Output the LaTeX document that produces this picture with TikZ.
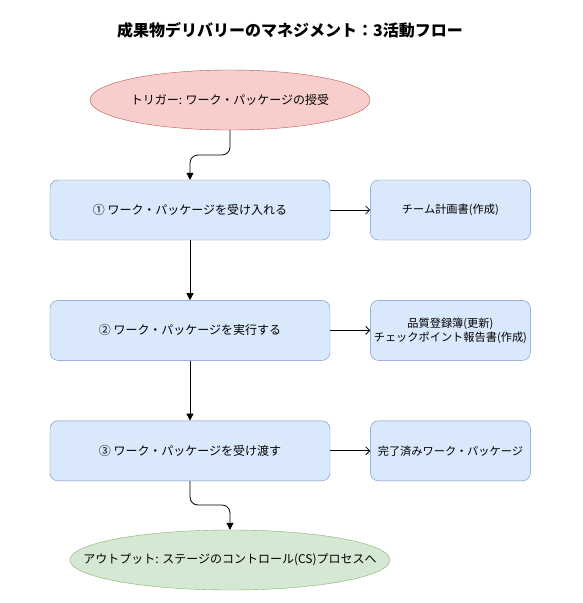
\documentclass[tikz,border=0pt]{standalone}
\usepackage{fontspec}
\setmainfont{Noto Sans CJK JP}
\usetikzlibrary{positioning,shapes.geometric,arrows.meta}
\definecolor{redfill}{HTML}{F8CECC}
\definecolor{redline}{HTML}{B85450}
\definecolor{bluefill}{HTML}{DAE8FC}
\definecolor{blueline}{HTML}{6C8EBF}
\definecolor{greenfill}{HTML}{D5E8D4}
\definecolor{greenline}{HTML}{82B366}
\begin{document}
\begin{tikzpicture}[
  x=1pt, y=-1pt,
  every node/.style={font=\fontsize{12}{14}\selectfont, align=center},
  activity/.style={draw=blueline, fill=bluefill, rounded corners=8pt, minimum width=280pt, minimum height=60pt, inner sep=0pt},
  product/.style={activity, minimum width=160pt, font=\fontsize{11.2}{14}\selectfont},
  trigger/.style={ellipse, draw=redline, fill=redfill, minimum width=280pt, minimum height=60pt, inner ysep=0pt, inner xsep=-20pt},
  output/.style={ellipse, draw=greenline, fill=greenfill, minimum width=320pt, minimum height=60pt, inner ysep=0pt, inner xsep=-45pt},
  flow/.style={-{Triangle[length=7pt,width=7pt]}, line width=0.8pt, rounded corners=8pt},
  yields/.style={-{Straight Barb[length=4pt,width=8pt]}, line width=0.8pt}
]
\useasboundingbox (0,0) rectangle (582,603);
\node (title) at (290,30) {\fontsize{16}{19}\selectfont\bfseries 成果物デリバリーのマネジメント：3活動フロー};
\node (trig) [trigger] at (230,100) {トリガー: ワーク・パッケージの授受};
\node (accept) [activity] at (190,210) {① ワーク・パッケージを受け入れる};
\node (execute) [activity, below=60pt of accept] {② ワーク・パッケージを実行する};
\node (deliver) [activity, below=60pt of execute] {③ ワーク・パッケージを受け渡す};
\node (plan) [product, right=40pt of accept] {チーム計画書(作成)};
\node (reports) [product, right=40pt of execute] {品質登録簿(更新)\\チェックポイント報告書(作成)};
\node (done) [product, right=40pt of deliver] {完了済みワーク・パッケージ};
\node (out) [output] at (230,560) {アウトプット: ステージのコントロール(CS)プロセスへ};
% main flow
\draw[flow] (trig.south) -- (230,155) -| (accept.north);
\draw[flow] (accept) -- (execute);
\draw[flow] (execute) -- (deliver);
\draw[flow] (deliver.south) -- (190,505) -| (out.north);
% products
\draw[yields] (accept) -- (plan);
\draw[yields] (execute) -- (reports);
\draw[yields] (deliver) -- (done);
\end{tikzpicture}
\end{document}
